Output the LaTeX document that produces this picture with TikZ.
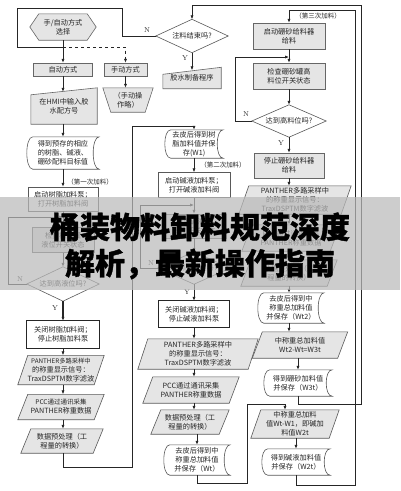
\documentclass[tikz,border=0pt]{standalone}
\usepackage{fontspec}
\newfontfamily\cjk{Noto Sans CJK SC}
\newfontfamily\cjkB{Noto Sans CJK SC}[BoldFeatures={FakeBold=1.2}]
\usetikzlibrary{arrows.meta}
\pgfdeclarelayer{bg}
\pgfsetlayers{bg,main}
\tikzset{
 lbl/.style={font=\cjk\fontsize{7.2}{9}\selectfont, align=center, inner sep=0pt, text=black!85},
 sml/.style={font=\cjk\fontsize{6.5}{8}\selectfont, inner sep=0pt, text=black!85},
 yn/.style={font=\fontsize{7}{8}\selectfont, inner sep=0pt, text=black!85},
 ln/.style={draw=black!85, line width=0.75pt},
 arr/.style={ln, -{Latex[length=4pt,width=3.2pt]}},
 gbox/.style={fill=black!10, draw=black!60, line width=0.6pt},
 wbox/.style={fill=white, draw=black!65, line width=0.6pt},
 kbox/.style={fill=white, draw=black!85, line width=1pt},
 pgray/.style={fill=black!10, draw=black!65, line width=0.6pt},
 banner/.style={font=\cjkB\bfseries\fontsize{30}{30}\selectfont, inner sep=0pt, text=black},
}
\newcommand\olrect[2]{\path[#2] (#1.north west) rectangle (#1.south east);}
\newcommand\olpara[2]{\path[#2] ([xshift=10pt]#1.north west) -- (#1.north east) -- ([xshift=-10pt]#1.south east) -- (#1.south west) -- cycle;}
\newcommand\olstor[2]{\path[#2] ([xshift=6pt]#1.north west) -- (#1.north east) .. controls ([xshift=-8pt]#1.north east) and ([xshift=-8pt]#1.south east) .. (#1.south east) -- ([xshift=6pt]#1.south west) .. controls ([xshift=-2pt]#1.south west) and ([xshift=-2pt]#1.north west) .. ([xshift=6pt]#1.north west) -- cycle;}
\newcommand\oldia[2]{\path[#2] (#1.north) -- (#1.east) -- (#1.south) -- (#1.west) -- cycle;}
\newcommand\olminp[2]{\path[#2] (#1.south west) -- ([yshift=-7pt]#1.north west) -- (#1.north east) -- (#1.south east) -- cycle;}
\newcommand\olhex[2]{\path[#2] (#1.west) -- ([xshift=9pt]#1.north west) -- ([xshift=-9pt]#1.north east) -- (#1.east) -- ([xshift=-9pt]#1.south east) -- ([xshift=9pt]#1.south west) -- cycle;}
\newcommand\oltrap[2]{\path[#2] (#1.north west) -- (#1.north east) -- ([xshift=-8pt]#1.south east) -- ([xshift=8pt]#1.south west) -- cycle;}
\newcommand\SHP[8]{%
 \node[lbl, minimum width=#6pt, minimum height=#7pt] (#3) at (#4,#5) {#8};
 \begin{pgfonlayer}{bg}\csname ol#1\endcsname{#3}{#2}\end{pgfonlayer}}
\begin{document}
\begin{tikzpicture}[x=1pt,y=-1pt]
\useasboundingbox (0,0) rectangle (400,491);
\begin{pgfonlayer}{bg}\fill[white] (0,0) rectangle (400,491);\end{pgfonlayer}
% ---------- left column ----------
\SHP{hex}{gbox}{hex}{63}{27}{66}{26}{手/自动方式\\选择}
\SHP{rect}{gbox}{auto}{63}{69.5}{59}{13}{自动方式}
\SHP{rect}{gbox}{man}{125.5}{69.5}{43}{13}{手动方式}
\SHP{minp}{gbox}{hmi}{64}{106}{66}{36}{在HMI中输入胶\\水配方号}
\SHP{trap}{gbox}{mop}{128}{100}{50}{24}{（手动操\\作略）}
\SHP{stor}{wbox}{st1}{63}{153}{72}{32}{得到预存的相应\\的树脂、碱液、\\硼砂配料目标值}
\SHP{rect}{wbox}{bx1}{63}{199}{70}{24}{启动树脂加料泵；\\打开树脂加料阀}
\SHP{rect}{gbox}{ck1}{63}{240}{62}{25}{检查树脂罐\\液位开关状态}
\SHP{dia}{wbox}{d1}{63}{284}{72}{34}{达到高液位吗?}
\SHP{rect}{kbox}{cl1}{63}{334.5}{73}{27}{关闭树脂加料阀；\\停止树脂加料泵}
\SHP{para}{pgray}{pa1}{61}{370}{86}{29}{\fontsize{6.3}{8.3}\selectfont PANTHER多路采样中\\的称重显示信号：\\TraxDSPTM数字滤波}
\SHP{para}{pgray}{pc1}{61}{407}{86}{25}{\fontsize{6.5}{9}\selectfont PCC通过通讯采集\\PANTHER称重数据}
\SHP{para}{pgray}{pr1}{62}{441}{82}{24}{数据预处理（工\\程量的转换）}
% ---------- middle column ----------
\SHP{dia}{wbox}{d0}{192}{36}{72}{33}{注料结束吗?}
\SHP{minp}{gbox}{glue}{192}{78}{58}{21}{胶水制备程序}
\SHP{stor}{wbox}{w1}{194}{144}{58}{28}{去皮后得到树\\脂加料值并保\\存(W1)}
\SHP{rect}{wbox}{bx2}{194}{185}{72}{25}{启动碱液加料泵；\\打开碱液加料阀}
\SHP{rect}{gbox}{ck2}{194}{226}{64}{24}{检查碱液罐\\液位开关状态}
\SHP{dia}{wbox}{d2}{194}{268}{72}{32}{达到高液位吗?}
\SHP{rect}{kbox}{cl2}{194}{314}{70}{26}{关闭碱液加料阀；\\停止碱液加料泵}
\SHP{para}{pgray}{pa2}{198}{354}{120}{30}{PANTHER多路采样中\\的称重显示信号：\\TraxDSPTM数字滤波}
\SHP{para}{pgray}{pc2}{191}{390}{96}{26}{PCC通过通讯采集\\PANTHER称重数据}
\SHP{para}{pgray}{pr2}{190}{422}{78}{24}{数据预处理（工\\程量的转换）}
\SHP{stor}{wbox}{wt}{197}{460}{66}{30}{去皮后得到中\\称重总加料值\\并保存（Wt）}
% ---------- right column ----------
\SHP{rect}{gbox}{bx3}{289}{36}{72}{26}{启动硼砂给料器\\给料}
\SHP{rect}{gbox}{ck3}{289}{76}{72}{26}{检查硼砂罐高\\料位开关状态}
\SHP{dia}{wbox}{d3}{289}{121}{74}{32}{达到高料位吗?}
\SHP{rect}{gbox}{sp3}{289}{165.5}{70}{25}{停止硼砂给料器\\给料}
\SHP{para}{pgray}{pa3}{295}{200}{112}{28}{PANTHER多路采样中\\的称重显示信号：\\TraxDSPTM数字滤波}
\SHP{para}{pgray}{pc3}{291}{238}{98}{26}{PCC通过通讯采集\\PANTHER称重数据}
\SHP{para}{pgray}{pr3}{289}{273}{96}{26}{数据预处理（工\\程量的转换）}
\SHP{stor}{wbox}{wt2}{291}{308}{66}{30}{去皮后得到中\\称重总加料值\\并保存（Wt2）}
\SHP{para}{pgray}{ca3}{300}{345}{95}{26}{中称重总加料值\\Wt2-Wt=W3t}
\SHP{stor}{wbox}{w3}{298}{383}{68}{26}{得到硼砂加料值\\并保存（W3t）}
\SHP{para}{pgray}{m1}{295}{424}{88}{28}{中称重总加料\\值Wt-W1，即碱加\\料值W2t}
\SHP{stor}{wbox}{w2}{296}{462}{68}{26}{得到碱液加料值\\并保存（W2t）}
% ---------- labels ----------
\node[sml] (lab1) at (90,182) {（第一次加料）};
\node[sml] (lab2) at (223,165) {（第二次加料）};
\node[sml] (lab3) at (318,16) {（第三次加料）};
\node[yn] (n0) at (147,30) {N};
\node[yn] (y0) at (185,58) {Y};
\node[yn] (n1) at (20,279) {N};
\node[yn] (y1) at (55,308) {Y};
\node[yn] (n2) at (151,263) {N};
\node[yn] (y2) at (187,292) {Y};
\node[yn] (n3) at (246,114) {N};
\node[yn] (y3) at (281,143) {Y};
% ---------- connectors: left ----------
\coordinate (j1) at (63,47);
\draw[arr] (hex.south) -- (auto.north);
\draw[ln,dashed,-{Latex[length=4pt,width=3.2pt]}] (j1) -| (man.north);
\coordinate (n0a) at (122,8);
\coordinate (n0b) at (17,8);
\draw[ln] (d0.west) -| (n0a) -- (n0b) |- (j1);
\draw[arr] (auto.south) -- ([yshift=-4pt]auto.south |- hmi.north);
\draw[arr] (man.south) -- (man.south |- mop.north);
\draw[arr] (auto.south |- hmi.south) -- (auto.south |- st1.north);
\draw[arr] (st1.south) -- (st1.south |- bx1.north);
\draw[arr] (bx1.south) -- (bx1.south |- ck1.north);
\draw[arr] (ck1.south) -- (ck1.south |- d1.north);
\coordinate (l1) at (8,217);
\coordinate (jl1) at (63,217);
\draw[arr] (d1.west) -| (l1) -- (jl1);
\draw[arr,line width=1.2pt] (d1.south) -- (d1.south |- cl1.north);
\draw[arr] (cl1.south) -- (cl1.south |- pa1.north);
\draw[arr] (cl1.south |- pa1.south) -- (cl1.south |- pc1.north);
\draw[arr] (cl1.south |- pc1.south) -- (cl1.south |- pr1.north);
\coordinate (b1) at (132,467);
\coordinate (t1) at (132,126);
\draw[arr,line width=1pt] (cl1.south |- pr1.south) |- (b1) -- (t1) -| (w1.north);
% ---------- connectors: middle ----------
\draw[arr] (d0.south) -- ([yshift=-3pt]glue.north);
\draw[arr] (w1.south) -- (w1.south |- bx2.north);
\draw[arr] (bx2.south) -- (bx2.south |- ck2.north);
\draw[arr] (ck2.south) -- (ck2.south |- d2.north);
\coordinate (l2) at (140,205);
\coordinate (jl2) at (194,205);
\draw[arr] (d2.west) -| (l2) -- (jl2);
\draw[arr] (d2.south) -- (d2.south |- cl2.north);
\draw[arr] (cl2.south) -- (cl2.south |- pa2.north);
\draw[arr] (cl2.south |- pa2.south) -- (cl2.south |- pc2.north);
\draw[arr] (cl2.south |- pc2.south) -- (cl2.south |- pr2.north);
\draw[arr,line width=1pt] (wt.north |- pr2.south) -- (wt.north);
\coordinate (b2) at (247,483);
\coordinate (t2) at (247,404);
\draw[arr] (wt.south) |- (b2) -- (t2) -| ([xshift=-10pt]m1.north);
% ---------- connectors: right ----------
\coordinate (b3) at (355,485);
\coordinate (t3) at (355,10);
\draw[arr] (w2.south) |- (b3) -- (t3) -| (bx3.north);
\draw[arr] (bx3.south) -- (bx3.south |- ck3.north);
\draw[arr] (ck3.south) -- (ck3.south |- d3.north);
\coordinate (l3) at (235,57);
\coordinate (jl3) at (289,57);
\draw[arr] (d3.west) -| (l3) -- (jl3);
\draw[arr] (d3.south) -- (d3.south |- sp3.north);
\draw[arr] (sp3.south) -- (sp3.south |- pa3.north);
\draw[arr] (sp3.south |- pa3.south) -- (sp3.south |- pc3.north);
\draw[arr] (sp3.south |- pc3.south) -- (sp3.south |- pr3.north);
\draw[arr] (sp3.south |- pr3.south) -- (sp3.south |- wt2.north);
\draw[arr] (sp3.south |- wt2.south) -- (sp3.south |- ca3.north);
\draw[arr] (w3.north |- ca3.south) -- (w3.north);
\coordinate (b4) at (361,404);
\coordinate (t4) at (361,5);
\draw[arr] (w3.south) |- (b4) -- (t4) -| (d0.north);
\draw[arr] (w2.north |- m1.south) -- (w2.north);
% ---------- banner ----------
\fill[black!27, opacity=0.72] (0,197) rectangle (400,290);
\node[banner] (ban1) at (200,227) {桶装物料卸料规范深度};
\node[banner] (ban2) at (200,264) {解析，最新操作指南};
\end{tikzpicture}
\end{document}
